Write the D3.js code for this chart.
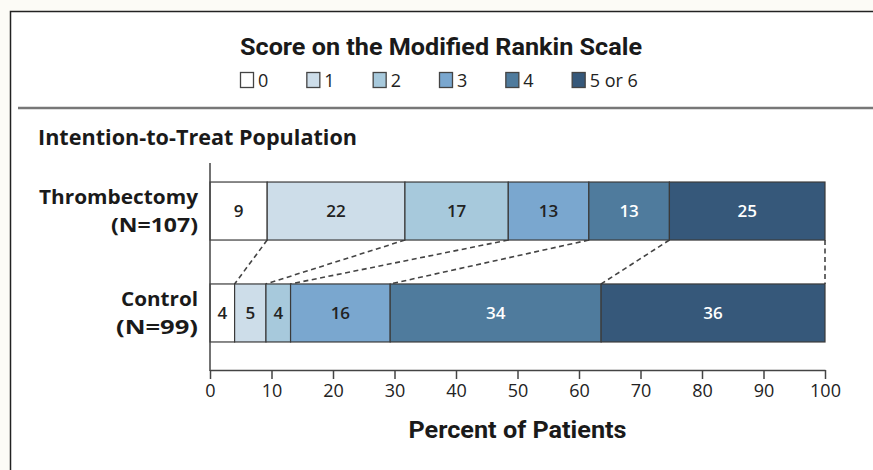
<!DOCTYPE html>
<html>
<head>
<meta charset="utf-8">
<script src="https://cdn.jsdelivr.net/npm/d3@7"></script>
<style>
  body { margin: 0; background: #fcfbf6; }
  svg { display: block; }
</style>
</head>
<body>
<div id="chart"></div>
<script>
// scores on the modified Rankin scale (legend order)
let scores = ["0", "1", "2", "3", "4", "5 or 6"];
let score_colors = ["#ffffff", "#cddde9", "#a7c9dc", "#7aa7cf", "#4f7b9d", "#36587a"];
let label_colors = ["#222", "#222", "#222", "#222", "#fff", "#fff"];

// groups and percent of patients per score
let groups = ["Thrombectomy", "Control"];
let group_sizes = ["(N=107)", "(N=99)"];
let thrombectomy_pct = [9.3, 22.4, 16.8, 13.1, 13.1, 25.3];
let control_pct = [4.0, 5.1, 4.0, 16.2, 34.3, 36.4];

let x_ticks = [0, 10, 20, 30, 40, 50, 60, 70, 80, 90, 100];

let width = 873, height = 470;
let condensed = "'Liberation Sans Narrow', 'Roboto', sans-serif";
let sans = "'Open Sans', 'Lato', sans-serif";

let svg = d3.select("#chart")
    .append("svg")
    .attr("width", width)
    .attr("height", height);

// white panel with a dark frame on top and left
svg.append("rect")
    .attr("x", 10).attr("y", 11)
    .attr("width", width - 10).attr("height", height - 11)
    .attr("fill", "#fff");
svg.append("path")
    .attr("d", "M10.5," + height + "V11.5H" + width)
    .attr("fill", "none")
    .attr("stroke", "#222")
    .attr("stroke-width", 1.5);

// title
svg.append("text")
    .attr("x", 441).attr("y", 55)
    .attr("text-anchor", "middle")
    .attr("textLength", 402)
    .attr("lengthAdjust", "spacingAndGlyphs")
    .style("font-family", condensed)
    .style("font-weight", "bold")
    .style("font-size", "23px")
    .attr("fill", "#1a1a1a")
    .text("Score on the Modified Rankin Scale");

// legend
let legend = svg.append("g").attr("transform", "translate(240,72)");
let legend_x = d3.scaleBand().domain(scores).range([0, 398]);
let item = legend.selectAll("g.item")
    .data(scores)
    .enter()
    .append("g")
    .attr("class", "item")
    .attr("transform", function (d) { return "translate(" + legend_x(d) + ",0)"; });
item.append("rect")
    .attr("x", 0.5).attr("y", 0.5)
    .attr("width", 13).attr("height", 15)
    .attr("fill", function (d, i) { return score_colors[i]; })
    .attr("stroke", "#444")
    .attr("stroke-width", 1.3);
item.append("text")
    .attr("x", 18).attr("y", 15)
    .style("font-family", sans)
    .style("font-size", "18px")
    .attr("fill", "#222")
    .text(function (d) { return d; });

// separator
svg.append("line")
    .attr("x1", 18).attr("x2", width)
    .attr("y1", 108).attr("y2", 108)
    .attr("stroke", "#777")
    .attr("stroke-width", 2.5);

// subtitle
svg.append("text")
    .attr("x", 38).attr("y", 145)
    .attr("textLength", 319)
    .attr("lengthAdjust", "spacingAndGlyphs")
    .style("font-family", sans)
    .style("font-weight", "bold")
    .style("font-size", "21px")
    .attr("fill", "#1a1a1a")
    .text("Intention-to-Treat Population");

// scales
let x = d3.scaleLinear().domain([0, 100]).range([210, 825]);
let y = d3.scaleBand()
    .domain(groups)
    .range([170, 354])
    .paddingInner(0.431)
    .paddingOuter(0.118);

let series = [thrombectomy_pct, control_pct];
let stacked = series.map(function (values, g) {
    let cum = 0;
    return values.map(function (v, i) {
        let seg = { group: groups[g], score: i, value: v, x0: cum, x1: cum + v };
        cum += v;
        return seg;
    });
});

// dashed connectors between the two bars
let connectors = d3.range(1, scores.length + 1).map(function (i) {
    return {
        top: d3.sum(thrombectomy_pct.slice(0, i)),
        bottom: d3.sum(control_pct.slice(0, i))
    };
});
svg.selectAll("line.connector")
    .data(connectors)
    .enter()
    .append("line")
    .attr("class", "connector")
    .attr("x1", function (d) { return x(Math.min(d.top, 100)); })
    .attr("y1", y("Thrombectomy") + y.bandwidth())
    .attr("x2", function (d) { return x(Math.min(d.bottom, 100)); })
    .attr("y2", y("Control"))
    .attr("stroke", "#444")
    .attr("stroke-width", 1.6)
    .attr("stroke-dasharray", "5,3.5");

// bars
let bars = svg.selectAll("g.bar")
    .data(stacked)
    .enter()
    .append("g")
    .attr("class", "bar");
bars.selectAll("rect")
    .data(function (d) { return d; })
    .enter()
    .append("rect")
    .attr("x", function (d) { return x(d.x0); })
    .attr("width", function (d) { return x(Math.min(d.x1, 100)) - x(d.x0); })
    .attr("y", function (d) { return y(d.group); })
    .attr("height", y.bandwidth())
    .attr("fill", function (d) { return score_colors[d.score]; })
    .attr("stroke", "#3a3a3a")
    .attr("stroke-width", 1.2);
bars.selectAll("text")
    .data(function (d) { return d; })
    .enter()
    .append("text")
    .attr("x", function (d) { return x((d.x0 + Math.min(d.x1, 100)) / 2); })
    .attr("y", function (d) { return y(d.group) + y.bandwidth() / 2 + 6; })
    .attr("text-anchor", "middle")
    .style("font-family", sans)
    .style("font-weight", "600")
    .style("font-size", "17px")
    .attr("fill", function (d) { return label_colors[d.score]; })
    .text(function (d) { return d3.format(".0f")(d.value); });

// category labels
let name_widths = [159, 77];
let size_widths = [87, 82];
let cat = svg.selectAll("g.cat")
    .data(groups)
    .enter()
    .append("g")
    .attr("class", "cat")
    .attr("transform", function (d) { return "translate(198," + (y(d) + y.bandwidth() / 2) + ")"; });
cat.append("text")
    .attr("y", -7)
    .attr("text-anchor", "end")
    .attr("textLength", function (d, i) { return name_widths[i]; })
    .attr("lengthAdjust", "spacingAndGlyphs")
    .style("font-family", sans)
    .style("font-weight", "bold")
    .style("font-size", "20px")
    .attr("fill", "#1a1a1a")
    .text(function (d) { return d; });
cat.append("text")
    .attr("y", 21)
    .attr("text-anchor", "end")
    .attr("textLength", function (d, i) { return size_widths[i]; })
    .attr("lengthAdjust", "spacingAndGlyphs")
    .style("font-family", sans)
    .style("font-weight", "bold")
    .style("font-size", "20px")
    .attr("fill", "#1a1a1a")
    .text(function (d, i) { return group_sizes[i]; });

// y axis line
svg.append("line")
    .attr("x1", x(0)).attr("x2", x(0))
    .attr("y1", 163).attr("y2", 371)
    .attr("stroke", "#444")
    .attr("stroke-width", 1.5);

// x axis
let x_axis = svg.append("g")
    .attr("transform", "translate(0,370)")
    .call(d3.axisBottom(x).tickValues(x_ticks).tickSize(9).tickSizeOuter(0).tickPadding(5));
x_axis.select(".domain").attr("stroke", "#444").attr("stroke-width", 1.5);
x_axis.selectAll(".tick line").attr("stroke", "#444").attr("stroke-width", 1.5);
x_axis.selectAll("text")
    .style("font-family", sans)
    .style("font-size", "18px")
    .attr("fill", "#222");

svg.append("text")
    .attr("x", x(50)).attr("y", 438)
    .attr("text-anchor", "middle")
    .attr("textLength", 218)
    .attr("lengthAdjust", "spacingAndGlyphs")
    .style("font-family", condensed)
    .style("font-weight", "bold")
    .style("font-size", "24px")
    .attr("fill", "#1a1a1a")
    .text("Percent of Patients");
</script>
</body>
</html>
